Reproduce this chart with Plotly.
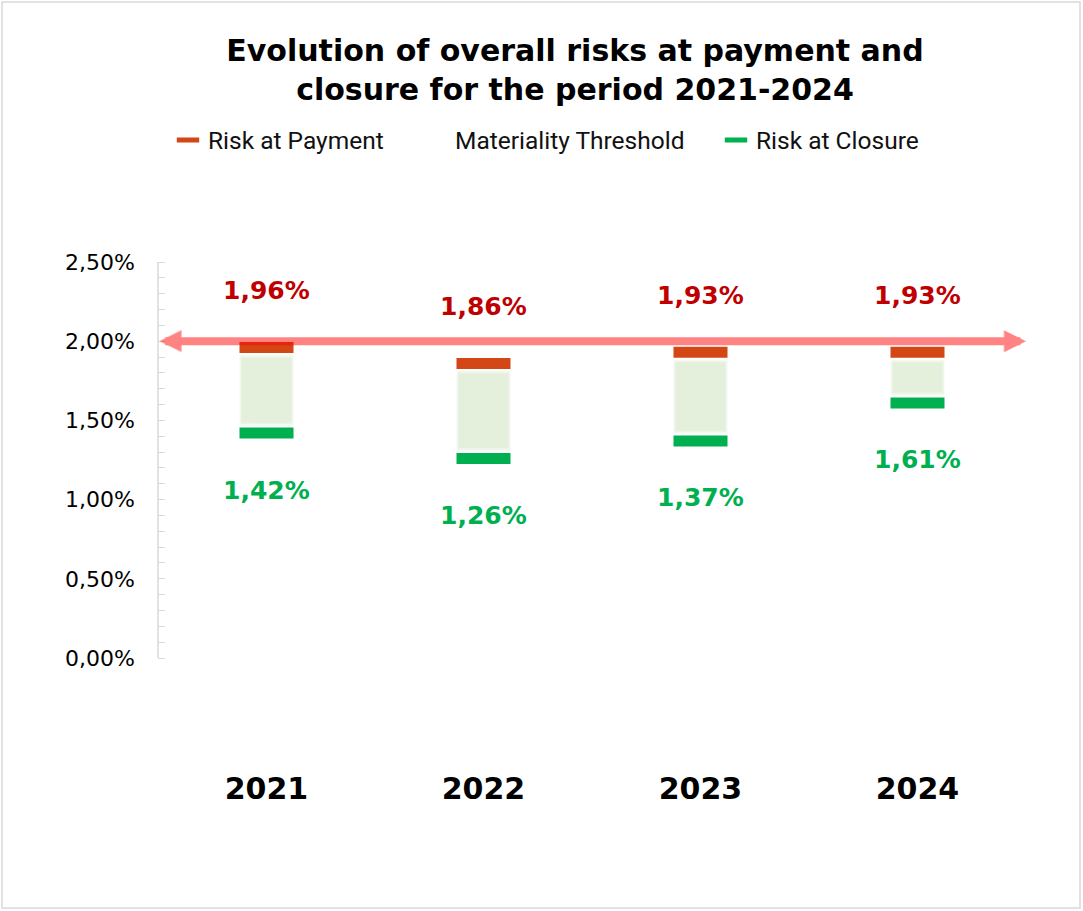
import plotly.graph_objects as go

# ---- data ----
years = ["2021", "2022", "2023", "2024"]
risk_payment = [1.96, 1.86, 1.93, 1.93]
risk_closure = [1.42, 1.26, 1.37, 1.61]
materiality_threshold = 2.00
y_tickvals = [0.0, 0.5, 1.0, 1.5, 2.0, 2.5]
y_ticktext = ["0,00%", "0,50%", "1,00%", "1,50%", "2,00%", "2,50%"]
y_minorvals = [i / 10 for i in range(0, 26)]

# ---- style ----
C_PAY = "#D24715"
C_CLO = "#00B050"
C_PAY_TXT = "#C00000"
C_CLO_TXT = "#00B050"
C_BOX = "#E5F0DC"
C_ARROW = "rgba(255,0,0,0.49)"

W, H = 1083, 911
L, R, T, B = 158, 57, 200, 151
plot_h = H - T - B
plot_w = W - L - R
y0_px = 658  # pixel of 0%
scale = 158.4  # px per 1%
y_lo = -(H - B - y0_px) / scale
y_hi = (y0_px - T) / scale
MARK_SIZE = 54 / 1.4  # plotly line-ew length = 1.4 * size


def fmt(v):
    return f"{v:.2f}".replace(".", ",") + "%"


def px_x(px):
    return (px - L) / plot_w


def px_y(py):
    return (H - B - py) / plot_h


idx = list(range(len(years)))

fig = go.Figure()

# shaded range boxes (layers to soften the edges)
spans = [p - c for p, c in zip(risk_payment, risk_closure)]
for w, inset, op in [(0.25, 0.045, 0.3), (0.24, 0.055, 0.5), (0.23, 0.065, 1.0)]:
    fig.add_trace(go.Bar(
        x=years, y=[s - 2 * inset for s in spans], base=[c + inset for c in risk_closure],
        width=w, marker=dict(color=C_BOX, line=dict(width=0)), opacity=op,
        showlegend=False, hoverinfo="skip"))

fig.add_trace(go.Scatter(
    x=years, y=risk_payment, mode="markers", name="Risk at Payment", legend="legend",
    marker=dict(symbol="line-ew", size=MARK_SIZE, color=C_PAY, line=dict(color=C_PAY, width=11))))
fig.add_trace(go.Scatter(
    x=[None], y=[None], mode="lines", name="Materiality Threshold", legend="legend2",
    line=dict(color="rgba(0,0,0,0)", width=2)))
fig.add_trace(go.Scatter(
    x=years, y=risk_closure, mode="markers", name="Risk at Closure", legend="legend3",
    marker=dict(symbol="line-ew", size=MARK_SIZE, color=C_CLO, line=dict(color=C_CLO, width=11))))

annotations = []
# threshold double arrow
annotations.append(dict(
    x=len(years) - 0.5, y=materiality_threshold, ax=-0.5, ay=materiality_threshold,
    xref="x", yref="y", axref="x", ayref="y", text="", showarrow=True,
    arrowhead=2, startarrowhead=2, arrowside="end+start", arrowsize=0.55,
    startarrowsize=0.55, arrowwidth=8, arrowcolor=C_ARROW, standoff=0, startstandoff=0))
for i, p, c in zip(idx, risk_payment, risk_closure):
    annotations.append(dict(
        x=i, y=p, xref="x", yref="y", text=fmt(p), showarrow=False, yshift=57,
        font=dict(family="DejaVu Sans", size=25, color=C_PAY_TXT, weight="bold")))
    annotations.append(dict(
        x=i, y=c, xref="x", yref="y", text=fmt(c), showarrow=False, yshift=-57,
        font=dict(family="DejaVu Sans", size=25, color=C_CLO_TXT, weight="bold")))

shapes = [
    # y axis line from 0% to 2.5%
    dict(type="line", xref="paper", yref="y", x0=0, x1=0, y0=0, y1=y_tickvals[-1],
         line=dict(color="#D9D9D9", width=1.5), layer="below"),
    # outer border
    dict(type="rect", xref="paper", yref="paper",
         x0=px_x(2), x1=px_x(1080), y0=px_y(908), y1=px_y(2),
         line=dict(color="#D9D9D9", width=1.5), fillcolor="rgba(0,0,0,0)"),
]

leg_common = dict(orientation="h", yanchor="middle", y=px_y(140), xanchor="left",
                  font=dict(family="Roboto", size=24.5, color="#111111"),
                  bgcolor="rgba(0,0,0,0)", itemclick=False, itemdoubleclick=False)

fig.update_layout(
    width=W, height=H,
    margin=dict(l=L, r=R, t=T, b=B),
    paper_bgcolor="white", plot_bgcolor="white",
    barmode="overlay",
    title=dict(
        text="Evolution of overall risks at payment and<br>closure for the period 2021-2024",
        x=px_x(575), xref="paper", xanchor="center",
        y=1 - 61 / H, yref="container", yanchor="top",
        font=dict(family="DejaVu Sans", size=30, color="black", weight="bold")),
    legend=dict(x=px_x(168), **leg_common),
    legend2=dict(x=px_x(415), **leg_common),
    legend3=dict(x=px_x(716), **leg_common),
    xaxis=dict(
        type="category", range=[-0.5, len(years) - 0.5], showline=False, showgrid=False,
        zeroline=False, ticks="",
        tickfont=dict(family="DejaVu Sans", size=30, color="black", weight="bold"),
        ticklabelstandoff=8),
    yaxis=dict(
        range=[y_lo, y_hi], showline=False, showgrid=False, zeroline=False,
        tickmode="array", tickvals=y_tickvals, ticktext=y_ticktext,
        ticks="inside", ticklen=7, tickcolor="#D9D9D9", tickwidth=1,
        minor=dict(tickmode="array", tickvals=y_minorvals, ticks="inside",
                   ticklen=7, tickcolor="#D9D9D9", tickwidth=1, showgrid=False),
        tickfont=dict(family="DejaVu Sans", size=22, color="black"),
        ticklabelstandoff=22),
    annotations=annotations,
    shapes=shapes,
    showlegend=True,
)

fig.write_html("out.html", config={"displayModeBar": False},
               post_script="document.body.style.margin='0';")
